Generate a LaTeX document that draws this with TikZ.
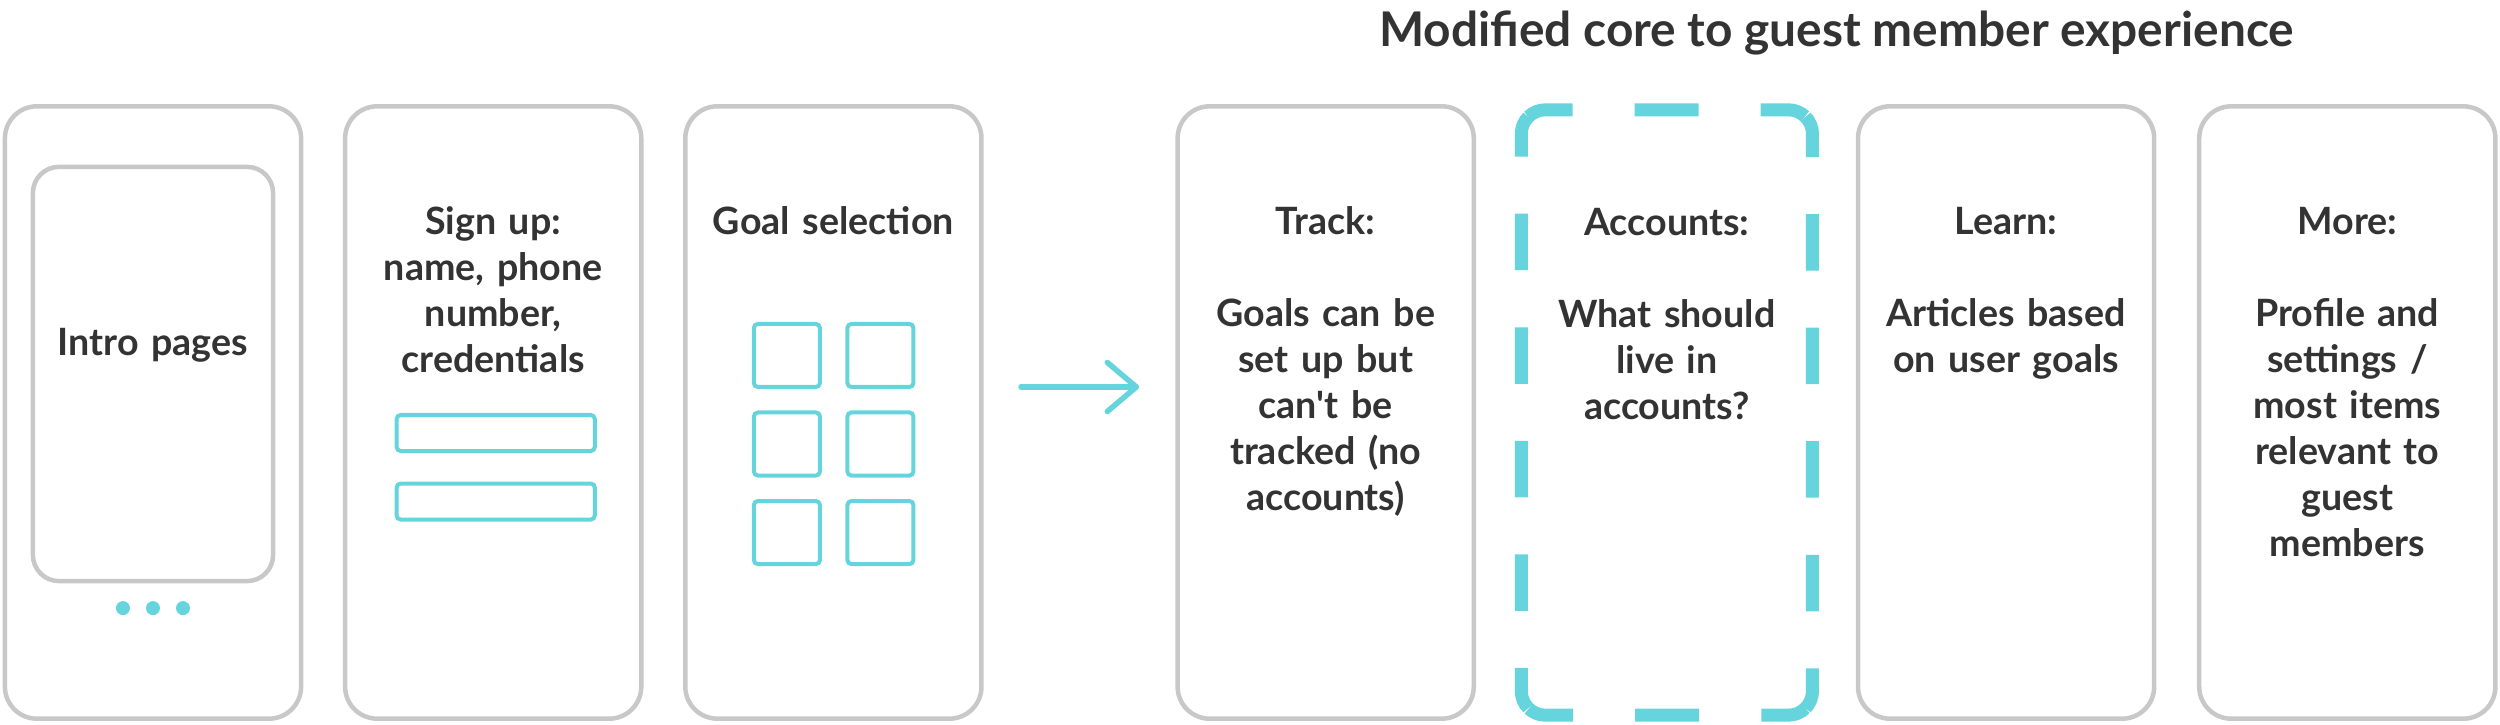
\documentclass[tikz,border=0pt]{standalone}
\usepackage{fontspec}
\setmainfont{Lato}
\usepackage{xcolor}
\usepackage{tikz}
\usetikzlibrary{arrows.meta, positioning, calc}
\definecolor{framegray}{HTML}{C8C8C8}
\definecolor{tealline}{HTML}{66D4DC}
\definecolor{inkgray}{HTML}{333333}
\tikzstyle{card} = [draw=framegray, line width=0.045cm, rectangle, rounded corners=0.32cm, minimum width=2.96cm, minimum height=6.12cm, inner sep=0pt, outer sep=0pt]
\tikzstyle{openslot} = [rectangle, minimum width=2.91cm, minimum height=6.05cm, inner sep=0pt, outer sep=0pt]
\tikzstyle{slotedge} = [draw=tealline, line width=0.13cm]
\tikzstyle{hdash} = [dash pattern=on 0.46cm off 0.62cm on 0.64cm off 0.62cm on 0.46cm off 1cm]
\tikzstyle{vdash} = [dash pattern=on 0.42cm off 0.57cm on 0.565cm off 0.57cm on 0.565cm off 0.57cm on 0.565cm off 0.57cm on 0.565cm off 0.57cm on 0.42cm off 1cm]
\tikzstyle{screen} = [draw=framegray, line width=0.045cm, rectangle, rounded corners=0.26cm, minimum width=2.40cm, minimum height=4.14cm, inner sep=0pt, outer sep=0pt]
\tikzstyle{field} = [draw=tealline, line width=0.04cm, rectangle, rounded corners=0.04cm, minimum width=1.98cm, minimum height=0.36cm, inner sep=0pt, outer sep=0pt]
\tikzstyle{tile} = [draw=tealline, line width=0.04cm, rectangle, rounded corners=0.04cm, minimum width=0.66cm, minimum height=0.63cm, inner sep=0pt, outer sep=0pt]
\tikzstyle{dot} = [fill=tealline, circle, minimum size=0.14cm, inner sep=0pt, outer sep=0pt]
\tikzstyle{caption} = [text=inkgray, font=\bfseries\fontsize{10.7}{13.1}\selectfont, text width=2.8cm, align=center, inner sep=0pt, anchor=base]
\tikzstyle{heading} = [text=inkgray, font=\bfseries\fontsize{13.6}{16}\selectfont, inner sep=0pt, anchor=base]
\tikzstyle{flow} = [draw=tealline, line width=0.055cm, line cap=round, -{Straight Barb[length=0.29cm, width=0.49cm, line join=round, line cap=round]}]

\begin{document}
\begin{tikzpicture}[x=0.01cm, y=0.01cm]
    \useasboundingbox (0,0) rectangle (2500,724);
    % Screens
    \node (intro) [card] at (153,311.5) {};
    \node (signup) [card, right=0.44cm of intro] {};
    \node (goal) [card, right=0.44cm of signup] {};
    \node (track) [card, right=1.96cm of goal] {};
    \node (accounts) [openslot, right=0.475cm of track] {};
    \node (learn) [card, right=0.455cm of accounts] {};
    \node (more) [card, right=0.45cm of learn] {};

    % Intro pages
    \node (phone) [screen] at ([yshift=0.385cm]intro.center) {};
    \node (intro_txt) [caption] at ([yshift=0.18cm]phone.center) {Intro pages};
    \node (dot_b) [dot] at ([yshift=-1.955cm]intro.center) {};
    \node (dot_a) [dot, left=0.16cm of dot_b] {};
    \node (dot_c) [dot, right=0.16cm of dot_b] {};

    % Sign up
    \node (signup_txt) [caption] at ([yshift=-1.28cm]signup.north) {Sign up:\\ name, phone\\ number,\\ credentials};
    \node (field_a) [field] at ([shift={(0.025cm,-0.205cm)}]signup.center) {};
    \node (field_b) [field, below=0.325cm of field_a] {};

    % Goal selection
    \node (goal_txt) [caption] at ([yshift=-1.28cm]goal.north) {Goal selection};
    \node (tile_a) [tile] at ([shift={(-0.465cm,0.57cm)}]goal.center) {};
    \node (tile_b) [tile, right=0.275cm of tile_a] {};
    \node (tile_c) [tile, below=0.255cm of tile_a] {};
    \node (tile_d) [tile, right=0.275cm of tile_c] {};
    \node (tile_e) [tile, below=0.255cm of tile_c] {};
    \node (tile_f) [tile, right=0.275cm of tile_e] {};

    % Core screens
    \node (track_txt) [caption] at ([yshift=-1.28cm]track.north) {Track:\\[13.1pt] Goals can be\\ set up but\\ can\textquotesingle t be\\ tracked (no\\ accounts)};
    \node (accounts_txt) [caption] at ([yshift=-1.255cm]accounts.north) {Accounts:\\[13.1pt] What should\\ live in\\ accounts?};
    \node (learn_txt) [caption] at ([yshift=-1.28cm]learn.north) {Learn:\\[13.1pt] Articles based\\ on user goals};
    \node (more_txt) [caption] at ([yshift=-1.28cm]more.north) {More:\\[13.1pt] Profile and\\ settings /\\ most items\\ relevant to\\ guest\\ members};
    \node (title) [heading] at ([yshift=0.60cm]$(track.north)!0.5!(more.north)$) {Modified core to guest member experience};

    % Link
    \draw [flow, shorten <=0.395cm, shorten >=0.385cm] ([yshift=0.255cm]goal.east) -- ([yshift=0.255cm]track.west);

    % Dashed outline, one side at a time
    \draw [slotedge, hdash] ([shift={(0.0703cm,-0.0703cm)}]accounts.north west) arc[start angle=135, end angle=90, radius=0.24cm] -- ([xshift=-0.24cm]accounts.north east) arc[start angle=90, end angle=45, radius=0.24cm];
    \draw [slotedge, vdash] ([shift={(-0.0703cm,-0.0703cm)}]accounts.north east) arc[start angle=45, end angle=0, radius=0.24cm] -- ([yshift=0.24cm]accounts.south east) arc[start angle=0, end angle=-45, radius=0.24cm];
    \draw [slotedge, hdash] ([shift={(-0.0703cm,0.0703cm)}]accounts.south east) arc[start angle=-45, end angle=-90, radius=0.24cm] -- ([xshift=0.24cm]accounts.south west) arc[start angle=-90, end angle=-135, radius=0.24cm];
    \draw [slotedge, vdash] ([shift={(0.0703cm,0.0703cm)}]accounts.south west) arc[start angle=225, end angle=180, radius=0.24cm] -- ([yshift=-0.24cm]accounts.north west) arc[start angle=180, end angle=135, radius=0.24cm];
\end{tikzpicture}
\end{document}
